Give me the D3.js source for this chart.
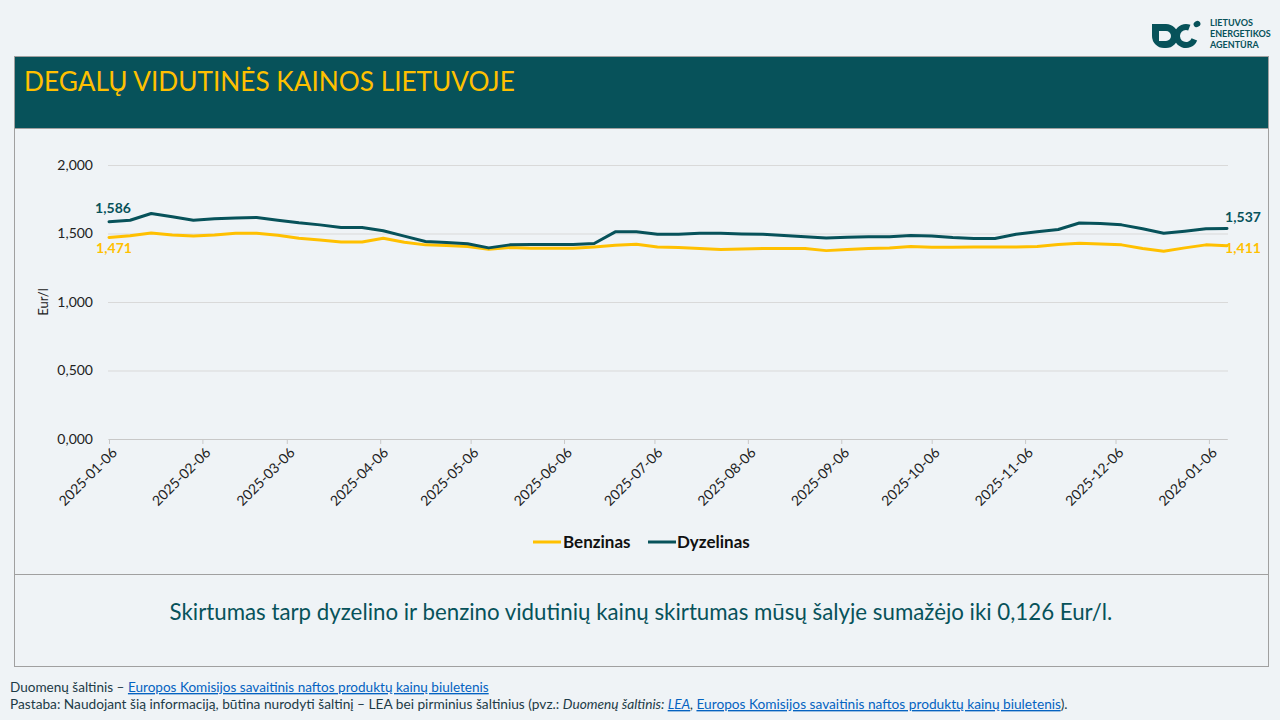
<!DOCTYPE html>
<html>
<head>
<meta charset="utf-8">
<script src="https://cdn.jsdelivr.net/npm/d3@7"></script>
<style>
    html, body { margin: 0; padding: 0; background: #eff3f6; }
    svg { display: block; font-family: Lato, "Noto Sans", sans-serif; }
</style>
</head>
<body>
<svg id="chart" width="1280" height="720"></svg>
<script>
// savaitės (pirmadieniai)
const dates = [
    "2025-01-06", "2025-01-13", "2025-01-20", "2025-01-27",
    "2025-02-03", "2025-02-10", "2025-02-17", "2025-02-24",
    "2025-03-03", "2025-03-10", "2025-03-17", "2025-03-24", "2025-03-31",
    "2025-04-07", "2025-04-14", "2025-04-21", "2025-04-28",
    "2025-05-05", "2025-05-12", "2025-05-19", "2025-05-26",
    "2025-06-02", "2025-06-09", "2025-06-16", "2025-06-23", "2025-06-30",
    "2025-07-07", "2025-07-14", "2025-07-21", "2025-07-28",
    "2025-08-04", "2025-08-11", "2025-08-18", "2025-08-25",
    "2025-09-01", "2025-09-08", "2025-09-15", "2025-09-22", "2025-09-29",
    "2025-10-06", "2025-10-13", "2025-10-20", "2025-10-27",
    "2025-11-03", "2025-11-10", "2025-11-17", "2025-11-24",
    "2025-12-01", "2025-12-08", "2025-12-15", "2025-12-22", "2025-12-29",
    "2026-01-05", "2026-01-12"
];

const benzinas = [
    1.471, 1.484, 1.504, 1.489, 1.482, 1.489, 1.501, 1.501, 1.487, 1.465,
    1.453, 1.438, 1.438, 1.465, 1.436, 1.417, 1.412, 1.405, 1.385, 1.397,
    1.392, 1.392, 1.392, 1.402, 1.414, 1.422, 1.402, 1.397, 1.390, 1.383,
    1.387, 1.390, 1.390, 1.390, 1.375, 1.383, 1.390, 1.395, 1.405, 1.400,
    1.400, 1.402, 1.402, 1.402, 1.405, 1.419, 1.429, 1.424, 1.417, 1.390,
    1.371, 1.395, 1.417, 1.411
];

const dyzelinas = [
    1.586, 1.597, 1.646, 1.622, 1.597, 1.607, 1.614, 1.617, 1.597, 1.578,
    1.563, 1.544, 1.544, 1.520, 1.481, 1.442, 1.434, 1.425, 1.395, 1.417,
    1.420, 1.420, 1.420, 1.427, 1.512, 1.512, 1.495, 1.495, 1.502, 1.502,
    1.497, 1.495, 1.485, 1.476, 1.468, 1.473, 1.476, 1.476, 1.485, 1.481,
    1.470, 1.464, 1.464, 1.495, 1.512, 1.529, 1.577, 1.573, 1.563, 1.534,
    1.502, 1.517, 1.534, 1.537
];

const seriesNames = ["Benzinas", "Dyzelinas"];
const seriesColors = ["#ffc000", "#07525a"];

const xTickDates = [
    "2025-01-06", "2025-02-06", "2025-03-06", "2025-04-06", "2025-05-06",
    "2025-06-06", "2025-07-06", "2025-08-06", "2025-09-06", "2025-10-06",
    "2025-11-06", "2025-12-06", "2026-01-06"
];
const yTicks = [0, 0.5, 1, 1.5, 2];

const titleText = "DEGALŲ VIDUTINĖS KAINOS LIETUVOJE";
const noteText = "Skirtumas tarp dyzelino ir benzino vidutinių kainų skirtumas mūsų šalyje sumažėjo iki 0,126 Eur/l.";
const sourceLink = "Europos Komisijos savaitinis naftos produktų kainų biuletenis";

class fuelPriceChart {

    constructor({svg}) {
        this.svg = d3.select(svg);
        // plot area
        this.plot = {left: 109, right: 1227, top: 165, bottom: 439};
        this.teal = "#07525a";
        this.parse = d3.timeParse("%Y-%m-%d");
        this.data = dates.map((d, i) => ({date: this.parse(d), b: benzinas[i], d: dyzelinas[i]}));
    }

    create() {
        this._drawFrame();
        this._drawLogo();
        this.scaleX = d3.scaleTime()
            .domain(d3.extent(this.data, d => d.date))
            .range([this.plot.left, this.plot.right]);
        this.scaleY = d3.scaleLinear()
            .domain([0, 2])
            .range([this.plot.bottom, this.plot.top]);
        this._drawAxisY();
        this._drawAxisX();
        this._drawLines();
        this._drawLabels();
        this._drawLegend();
        this._drawFooter();
    }

    // scale font so text spans given width
    _fit(sel, width) {
        const w = sel.node().getComputedTextLength();
        const fs = parseFloat(sel.attr("font-size"));
        sel.attr("font-size", (fs * width / w).toFixed(2));
        return sel;
    }

    _drawFrame() {
        const svg = this.svg;
        svg.append("rect").attr("width", 1280).attr("height", 720).attr("fill", "#eff3f6");
        svg.append("rect")
            .attr("x", 14.5).attr("y", 56.5).attr("width", 1254).attr("height", 72)
            .attr("fill", this.teal);
        svg.append("rect")
            .attr("x", 14.5).attr("y", 56.5).attr("width", 1254).attr("height", 610)
            .attr("fill", "none").attr("stroke", "#a0a0a0");
        svg.append("line")
            .attr("x1", 14.5).attr("x2", 1268.5).attr("y1", 574.5).attr("y2", 574.5)
            .attr("stroke", "#a0a0a0");
        svg.append("line")
            .attr("x1", 14.5).attr("x2", 1268.5).attr("y1", 128.5).attr("y2", 128.5)
            .attr("stroke", "#a0a0a0");

        this._fit(svg.append("text")
            .attr("x", 24).attr("y", 91)
            .attr("font-size", 26)
            .attr("fill", "#ffc000")
            .text(titleText), 491);

        this._fit(svg.append("text")
            .attr("x", 641).attr("y", 620)
            .attr("text-anchor", "middle")
            .attr("font-size", 21)
            .attr("fill", this.teal)
            .text(noteText), 943);
    }

    _drawLogo() {
        const g = this.svg.append("g").attr("fill", this.teal);
        // D
        g.append("path")
            .attr("d", "M1152,24 H1166 A12,12 0 0 1 1166,48 H1164 A12,12 0 0 1 1152,36 Z M1159,31 V41 H1166 A5,5 0 0 0 1166,31 Z")
            .attr("fill-rule", "evenodd");
        // C, open towards top right
        g.append("path")
            .attr("d", d3.arc()({innerRadius: 6, outerRadius: 12, startAngle: Math.PI * 0.62, endAngle: Math.PI * 2.12}))
            .attr("transform", "translate(1186,36)");
        g.append("ellipse").attr("cx", 1197).attr("cy", 24).attr("rx", 3.5).attr("ry", 3)
            .attr("transform", "rotate(-30,1197,24)");
        ["LIETUVOS", "ENERGETIKOS", "AGENTŪRA"].forEach((t, i) => {
            g.append("text")
                .attr("x", 1210).attr("y", 26 + i * 11)
                .attr("font-size", 9).attr("font-weight", 700)
                .text(t);
        });
    }

    _drawAxisY() {
        const fmt = v => d3.format(".3f")(v).replace(".", ",");
        const axis = this.svg.append("g")
            .attr("transform", `translate(${this.plot.left - 1},0)`)
            .call(d3.axisLeft(this.scaleY)
                .tickValues(yTicks)
                .tickSize(-(this.plot.right - this.plot.left + 2))
                .tickPadding(15)
                .tickFormat(fmt));
        axis.select(".domain").remove();
        axis.selectAll(".tick line").attr("stroke", "#d9d9d9");
        axis.selectAll(".tick text")
            .attr("font-family", "Lato, sans-serif")
            .attr("font-size", 14)
            .attr("fill", "#222");

        this.svg.append("text")
            .attr("transform", `translate(48,${(this.plot.top + this.plot.bottom) / 2}) rotate(-90)`)
            .attr("text-anchor", "middle")
            .attr("font-size", 13)
            .attr("fill", "#222")
            .text("Eur/l");
    }

    _drawAxisX() {
        const axis = this.svg.append("g")
            .attr("transform", `translate(0,${this.plot.bottom})`)
            .call(d3.axisBottom(this.scaleX)
                .tickValues(xTickDates.map(this.parse))
                .tickSize(5)
                .tickSizeOuter(0)
                .tickFormat(d3.timeFormat("%Y-%m-%d")));
        axis.select(".domain").attr("stroke", "#c8c8c8");
        axis.selectAll(".tick line").attr("stroke", "#c8c8c8");
        axis.selectAll(".tick text")
            .attr("font-family", "Lato, sans-serif")
            .attr("font-size", 14)
            .attr("fill", "#222")
            .attr("text-anchor", "end")
            .attr("x", 0).attr("y", 0).attr("dy", "0.35em")
            .attr("transform", "translate(5,11) rotate(-45)");
    }

    _drawLines() {
        const keys = ["b", "d"];
        keys.forEach((k, i) => {
            const line = d3.line()
                .x(d => this.scaleX(d.date))
                .y(d => this.scaleY(d[k]));
            this.svg.append("path")
                .datum(this.data)
                .attr("fill", "none")
                .attr("stroke", seriesColors[i])
                .attr("stroke-width", 3)
                .attr("stroke-linejoin", "round")
                .attr("stroke-linecap", "round")
                .attr("d", line);
        });
    }

    _drawLabels() {
        const fmt = v => d3.format(".3f")(v).replace(".", ",");
        const first = this.data[0], last = this.data[this.data.length - 1];
        const labels = [
            {x: this.scaleX(first.date) + 4, y: this.scaleY(first.d) - 9, v: first.d, c: seriesColors[1]},
            {x: this.scaleX(first.date) + 5, y: this.scaleY(first.b) + 16, v: first.b, c: seriesColors[0]},
            {x: this.scaleX(last.date) + 16, y: this.scaleY(last.d) - 6, v: last.d, c: seriesColors[1]},
            {x: this.scaleX(last.date) + 16, y: this.scaleY(last.b) + 7, v: last.b, c: seriesColors[0]}
        ];
        this.svg.append("g").selectAll("text")
            .data(labels)
            .enter().append("text")
            .attr("x", d => d.x)
            .attr("y", d => d.y)
            .attr("text-anchor", "middle")
            .attr("font-size", 14)
            .attr("font-weight", 700)
            .attr("fill", d => d.c)
            .text(d => fmt(d.v));
    }

    _drawLegend() {
        const g = this.svg.append("g");
        const items = [{x: 533, tx: 563}, {x: 648, tx: 677}];
        items.forEach((it, i) => {
            g.append("line")
                .attr("x1", it.x).attr("x2", it.x + 28)
                .attr("y1", 542).attr("y2", 542)
                .attr("stroke", seriesColors[i]).attr("stroke-width", 3);
            g.append("text")
                .attr("x", it.tx).attr("y", 548)
                .attr("font-size", 17).attr("font-weight", 700)
                .attr("fill", "#111")
                .text(seriesNames[i]);
        });
    }

    _drawFooter() {
        const link = "#0563c1";
        const t1 = this.svg.append("text")
            .attr("x", 10).attr("y", 692)
            .attr("font-size", 12.5).attr("fill", "#1d3b47");
        t1.append("tspan").text("Duomenų šaltinis – ");
        t1.append("tspan").attr("fill", link).style("text-decoration", "underline").text(sourceLink);
        this._fit(t1, 479);

        const t2 = this.svg.append("text")
            .attr("x", 10).attr("y", 709)
            .attr("font-size", 12.5).attr("fill", "#1d3b47");
        t2.append("tspan").text("Pastaba: Naudojant šią informaciją, būtina nurodyti šaltinį – LEA bei pirminius šaltinius (pvz.: ");
        t2.append("tspan").attr("font-style", "italic").text("Duomenų šaltinis: ");
        t2.append("tspan").attr("font-style", "italic").attr("fill", link).style("text-decoration", "underline").text("LEA");
        t2.append("tspan").attr("font-style", "italic").text(", ");
        t2.append("tspan").attr("fill", link).style("text-decoration", "underline").text(sourceLink);
        t2.append("tspan").text(").");
        this._fit(t2, 1058);
    }
}

new fuelPriceChart({svg: document.getElementById("chart")}).create();
</script>
</body>
</html>
